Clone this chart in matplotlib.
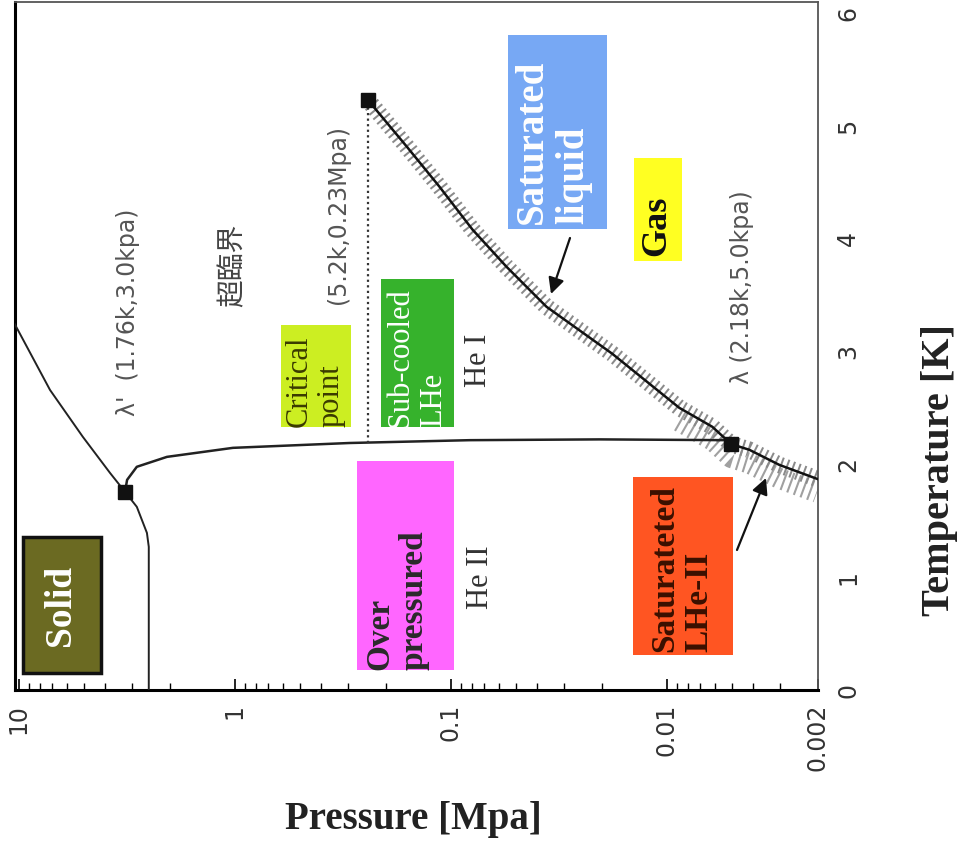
import numpy as np
import matplotlib.pyplot as plt
from matplotlib.patches import Rectangle
from matplotlib.ticker import FixedLocator, LogLocator, NullFormatter

plt.rcParams['font.family'] = ['DejaVu Sans']

# *** data (pressure in MPa, temperature in K) ***
# melting curve (solid / liquid)
melt_P = [12.0, 10.4, 7.16, 5.05, 3.78, 3.22, 2.84, 2.55, 2.50, 2.50]
melt_T = [3.45, 3.24, 2.66, 2.245, 1.925, 1.757, 1.624, 1.393, 1.269, 0.0]

# lambda line (He I / He II)
lam_P = [3.22, 3.15, 2.84, 2.06, 1.02, 0.294, 0.0818, 0.0205, 0.0052]
lam_T = [1.757, 1.863, 1.979, 2.067, 2.147, 2.19, 2.215, 2.222, 2.215]

# saturated vapour curve
vap_P = [0.243, 0.160, 0.113, 0.0794, 0.0553, 0.0361, 0.0179, 0.00877,
         0.00617, 0.00504, 0.00416, 0.00302, 0.00227, 0.00202]
vap_T = [5.235, 4.818, 4.463, 4.082, 3.753, 3.398, 2.981, 2.502,
         2.334, 2.18, 2.13, 1.996, 1.908, 1.872]

# special points: lambda', lambda, critical point
pt_names = ["lambda'", "lambda", "critical"]
pt_P = [3.22, 0.00504, 0.243]
pt_T = [1.757, 2.18, 5.235]

p_ticks = [10, 1, 0.1, 0.01, 0.002]
p_tick_labels = ['10', '1', '0.1', '0.01', '0.002']
t_ticks = [0, 1, 2, 3, 4, 5, 6]

# *** figure ***
fig = plt.figure(figsize=(9.57, 8.5), dpi=100)
ax = fig.add_axes([15 / 957, 160 / 850, 803 / 957, 688 / 850])
ax.set_xscale('log')
ax.set_xlim(10.4, 0.002)
ax.set_ylim(0, 6.1)


def px(x, y):
    # position in the picture (pixels) -> axes fraction
    return ((x - 15) / 803, (690 - y) / 688)


# hatched band along the vapour curve
low = [i for i, t in enumerate(vap_T) if t <= 2.55]
ax.plot([vap_P[i] for i in low], [vap_T[i] - 0.12 for i in low], color='#a0a0a0',
        lw=15, dashes=(0.1, 0.24), solid_capstyle='butt', zorder=1)
ax.plot(vap_P, vap_T, color='#8a8a8a', lw=12, dashes=(0.12, 0.24),
        solid_capstyle='butt', zorder=1)

ax.plot(melt_P, melt_T, color='#222222', lw=1.4, zorder=3)
ax.plot(lam_P, lam_T, color='#222222', lw=1.8, zorder=3)
ax.plot(vap_P, vap_T, color='#111111', lw=1.8, zorder=3)
# critical pressure, dotted down to the lambda line
ax.plot([pt_P[2], pt_P[2]], [lam_T[5], pt_T[2]], color='#333333', lw=1.6,
        linestyle=(0, (1, 1.5)), zorder=3)
ax.plot(pt_P, pt_T, 's', color='#111111', ms=10, zorder=4)

# *** coloured region labels ***
serif = 'Liberation Serif'
boxes = [
    # x0, y0, x1, y1, face
    (23, 537, 101, 673, '#6b6a22'),
    (357, 461, 454, 670, '#ff66ff'),
    (633, 477, 733, 655, '#ff5522'),
    (508, 35, 607, 229, '#77a8f4'),
    (634, 158, 682, 261, '#ffff22'),
    (281, 325, 351, 427, '#ccee22'),
    (381, 279, 454, 427, '#36b22c'),
]
for x0, y0, x1, y1, face in boxes:
    ax.add_patch(Rectangle(px(x0, y1), (x1 - x0) / 803, (y1 - y0) / 688,
                           transform=ax.transAxes, facecolor=face,
                           edgecolor='none', zorder=2))
ax.add_patch(Rectangle(px(23, 673), 78 / 803, 136 / 688, transform=ax.transAxes,
                       facecolor='none', edgecolor='#111111', lw=2.5, zorder=5))

ax.text(*px(61, 605), 'Solid', transform=ax.transAxes, rotation=90, ha='center',
        va='center', family=serif, weight='bold', size=27, color='white', zorder=6)
labels = [
    # x centre, start y, text, size, weight, colour
    (397, 670, 'Over\npressured', 24, 'bold', '#2a2a2a'),
    (682, 652, 'Saturateted\nLHe-II', 24, 'bold', '#3a1000'),
    (553, 224, 'Saturated\nliquid', 28, 'bold', 'white'),
    (657, 256, 'Gas', 26, 'bold', '#111111'),
    (315, 427, 'Critical\npoint', 22, 'normal', '#3a3a00'),
    (417, 427, 'Sub-cooled\nLHe', 22, 'normal', 'white'),
]
for x, y, s, size, weight, col in labels:
    ax.text(*px(x, y), s, transform=ax.transAxes, rotation=90, ha='center',
            va='bottom', multialignment='left', linespacing=1.15, family=serif,
            weight=weight, size=size, color=col, zorder=6)

ax.text(*px(478, 360), 'He I', transform=ax.transAxes, rotation=90, ha='center',
        va='center', family=serif, size=22, color='#333333', zorder=6)
ax.text(*px(480, 577), 'He II', transform=ax.transAxes, rotation=90, ha='center',
        va='center', family=serif, size=22, color='#333333', zorder=6)

notes = [
    (128, 312, "λ'  (1.76k,3.0kpa)"),
    (338, 215, '(5.2k,0.23Mpa)'),
    (742, 287, 'λ (2.18k,5.0kpa)'),
]
for x, y, s in notes:
    ax.text(*px(x, y), s, transform=ax.transAxes, rotation=90, ha='center',
            va='center', size=17, color='#555555', zorder=6)
ax.text(*px(232, 265), '超臨界', transform=ax.transAxes, rotation=90, ha='center',
        va='center', size=20, color='#444444',
        family=['Noto Sans CJK JP', 'DejaVu Sans'], zorder=6)

# arrows to the saturated states
arrow = dict(arrowstyle='-|>', color='#111111', lw=1.6, mutation_scale=24,
             shrinkA=0, shrinkB=0)
ax.annotate('', xy=px(551, 294), xytext=px(570, 238), xycoords='axes fraction',
            arrowprops=arrow, zorder=7)
ax.annotate('', xy=px(766, 478), xytext=px(737, 550), xycoords='axes fraction',
            arrowprops=arrow, zorder=7)

# *** axes ***
for side in ['left', 'bottom']:
    ax.spines[side].set_linewidth(2.2)
for side in ['right', 'top']:
    ax.spines[side].set_linewidth(1.3)
    ax.spines[side].set_color('#555555')

ax.xaxis.set_major_locator(FixedLocator(p_ticks))
ax.set_xticklabels(p_tick_labels)
ax.xaxis.set_minor_locator(LogLocator(base=10, subs=np.arange(2, 10), numticks=20))
ax.xaxis.set_minor_formatter(NullFormatter())
ax.tick_params(axis='x', which='both', direction='in', top=False)
ax.tick_params(axis='x', which='major', length=8, width=1.2, pad=10,
               labelsize=17, labelrotation=90, labelcolor='#333333')
ax.tick_params(axis='x', which='minor', length=5, width=1)

ax.yaxis.tick_right()
ax.set_yticks(t_ticks)
ax.tick_params(axis='y', which='both', length=0, pad=13, labelsize=17,
               labelrotation=90, labelcolor='#333333')
for lbl in ax.get_yticklabels():
    lbl.set_va('center')

fig.text(413 / 957, 1 - 820 / 850, 'Pressure [Mpa]', ha='center', va='center',
         family=serif, weight='bold', size=28, color='#222222')
fig.text(940 / 957, 1 - 470 / 850, 'Temperature [K]', ha='center', va='center',
         rotation=90, family=serif, weight='bold', size=29, color='#222222')

fig.savefig('out.png', dpi=100)
